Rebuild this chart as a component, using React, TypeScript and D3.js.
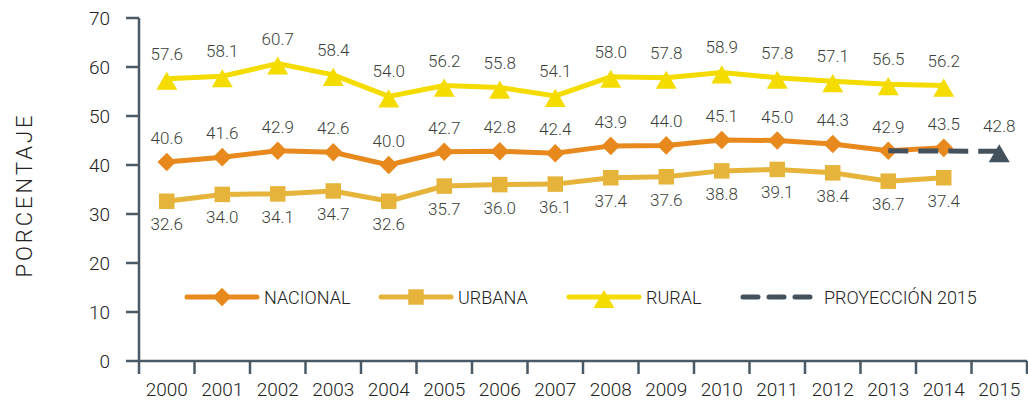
import * as d3 from "d3"
import React, { useRef, useEffect } from "react"

const years = ["2000", "2001", "2002", "2003", "2004", "2005", "2006", "2007", "2008", "2009", "2010", "2011", "2012", "2013", "2014", "2015"]
const nacional = [40.6, 41.6, 42.9, 42.6, 40.0, 42.7, 42.8, 42.4, 43.9, 44.0, 45.1, 45.0, 44.3, 42.9, 43.5]
const urbana = [32.6, 34.0, 34.1, 34.7, 32.6, 35.7, 36.0, 36.1, 37.4, 37.6, 38.8, 39.1, 38.4, 36.7, 37.4]
const rural = [57.6, 58.1, 60.7, 58.4, 54.0, 56.2, 55.8, 54.1, 58.0, 57.8, 58.9, 57.8, 57.1, 56.5, 56.2]
const proyeccionYears = ["2013", "2014", "2015"]
const proyeccion = [42.9, 42.85, 42.8]
const yTicks = [0, 10, 20, 30, 40, 50, 60, 70]

const FONT = "Roboto, 'DejaVu Sans Condensed', sans-serif"
const AXIS = "#4a5a66"
const TEXT = "#3a3f3a"

function App() {
  const ref = useRef<SVGSVGElement>(null)

  useEffect(() => {
    const svg = d3.select(ref.current)
    svg.selectAll("*").remove()

    const width = 1028,
      height = 402
    const left = 139,
      right = 1027,
      top = 18,
      bottom = 361

    const x = d3.scaleBand().domain(years).range([left, right])
    const y = d3.scaleLinear().domain([0, 70]).range([bottom, top])
    const cx = (yr: string) => x(yr)! + x.bandwidth() / 2

    svg.attr("width", width).attr("height", height)
      .attr("font-family", FONT)
      .attr("font-weight", 300)

    // y axis
    const ya = svg.append("g").attr("stroke", AXIS).attr("stroke-width", 2.5)
    ya.append("line").attr("x1", left).attr("x2", left).attr("y1", top).attr("y2", bottom)
    ya.selectAll("line.t")
      .data(yTicks)
      .enter()
      .append("line")
      .attr("class", "t")
      .attr("x1", left - 13)
      .attr("x2", left)
      .attr("y1", (d) => y(d))
      .attr("y2", (d) => y(d))
    svg.append("g")
      .selectAll("text")
      .data(yTicks)
      .enter()
      .append("text")
      .attr("x", 110)
      .attr("y", (d) => y(d) + 7)
      .attr("text-anchor", "end")
      .attr("font-size", 19)
      .attr("fill", "#222")
      .text((d) => d)

    // x axis
    const xa = svg.append("g").attr("stroke", AXIS).attr("stroke-width", 2.5)
    xa.append("line").attr("x1", left).attr("x2", right).attr("y1", bottom).attr("y2", bottom)
    xa.selectAll("line.t")
      .data([...years.map((yr) => x(yr)!), right])
      .enter()
      .append("line")
      .attr("class", "t")
      .attr("x1", (d) => d)
      .attr("x2", (d) => d)
      .attr("y1", bottom)
      .attr("y2", bottom + 13)
    svg.append("g")
      .selectAll("text")
      .data(years)
      .enter()
      .append("text")
      .attr("x", (d) => cx(d))
      .attr("y", 396)
      .attr("text-anchor", "middle")
      .attr("font-size", 19)
      .attr("fill", "#222")
      .text((d) => d)

    svg.append("text")
      .attr("transform", `translate(32,195) rotate(-90)`)
      .attr("text-anchor", "middle")
      .attr("font-size", 22)
      .attr("letter-spacing", 3)
      .attr("fill", "#222")
      .text("PORCENTAJE")

    const line = d3
      .line<number>()
      .x((d, i) => cx(years[i]))
      .y((d) => y(d))

    const diamond = d3.symbol().type(d3.symbolDiamond2).size(220)
    const square = d3.symbol().type(d3.symbolSquare).size(240)
    const triangle = d3.symbol().type(d3.symbolTriangle).size(190)
    const triShift = 5

    const series = [
      { data: urbana, color: "#e6b43a", sym: square, dy: 29, shift: 0 },
      { data: nacional, color: "#e8891e", sym: diamond, dy: -18, shift: 0 },
      { data: rural, color: "#f5dc00", sym: triangle, dy: -19, shift: triShift },
    ]

    series.forEach((s) => {
      svg.append("path")
        .attr("d", line(s.data))
        .attr("fill", "none")
        .attr("stroke", s.color)
        .attr("stroke-width", 5)
      svg.append("g")
        .selectAll("path")
        .data(s.data)
        .enter()
        .append("path")
        .attr("d", s.sym)
        .attr("transform", (d, i) => `translate(${cx(years[i])},${y(d) + s.shift})`)
        .attr("fill", s.color)
    })

    // projection
    const pline = d3
      .line<number>()
      .x((d, i) => cx(proyeccionYears[i]))
      .y((d) => y(d))
    svg.append("path")
      .attr("d", pline(proyeccion))
      .attr("fill", "none")
      .attr("stroke", "#44525e")
      .attr("stroke-width", 5)
      .attr("stroke-dasharray", "20 10")
    svg.append("path")
      .attr("d", triangle)
      .attr("transform", `translate(${cx("2015")},${y(proyeccion[2]) + triShift})`)
      .attr("fill", "#44525e")

    // value labels
    series.forEach((s) => {
      svg.append("g")
        .selectAll("text")
        .data(s.data)
        .enter()
        .append("text")
        .attr("x", (d, i) => cx(years[i]))
        .attr("y", (d) => y(d) + s.dy)
        .attr("text-anchor", "middle")
        .attr("font-size", 17)
        .attr("fill", TEXT)
        .text((d) => d.toFixed(1))
    })
    svg.append("text")
      .attr("x", cx("2015"))
      .attr("y", y(proyeccion[2]) - 19)
      .attr("text-anchor", "middle")
      .attr("font-size", 17)
      .attr("fill", TEXT)
      .text(proyeccion[2].toFixed(1))

    // legend
    const legend = [
      { label: "NACIONAL", color: "#e8891e", sym: diamond, x: 187, shift: 0 },
      { label: "URBANA", color: "#e6b43a", sym: square, x: 381, shift: 0 },
      { label: "RURAL", color: "#f5dc00", sym: triangle, x: 569, shift: triShift },
    ]
    const ly = 297
    legend.forEach((l) => {
      svg.append("line")
        .attr("x1", l.x)
        .attr("x2", l.x + 70)
        .attr("y1", ly)
        .attr("y2", ly)
        .attr("stroke", l.color)
        .attr("stroke-width", 5)
        .attr("stroke-linecap", "round")
      svg.append("path")
        .attr("d", l.sym)
        .attr("transform", `translate(${l.x + 35},${ly + l.shift})`)
        .attr("fill", l.color)
      svg.append("text")
        .attr("x", l.x + 77)
        .attr("y", ly + 7)
        .attr("font-size", 18)
        .attr("fill", "#222")
        .text(l.label)
    })
    svg.append("line")
      .attr("x1", 743)
      .attr("x2", 810)
      .attr("y1", ly)
      .attr("y2", ly)
      .attr("stroke", "#44525e")
      .attr("stroke-width", 5)
      .attr("stroke-linecap", "round")
      .attr("stroke-dasharray", "15 11")
    svg.append("text")
      .attr("x", 824)
      .attr("y", ly + 7)
      .attr("font-size", 18)
      .attr("fill", "#222")
      .text("PROYECCIÓN 2015")
  }, [])

  return <svg ref={ref} style={{ position: "absolute", left: 0, top: 0 }}></svg>
}

export default App
